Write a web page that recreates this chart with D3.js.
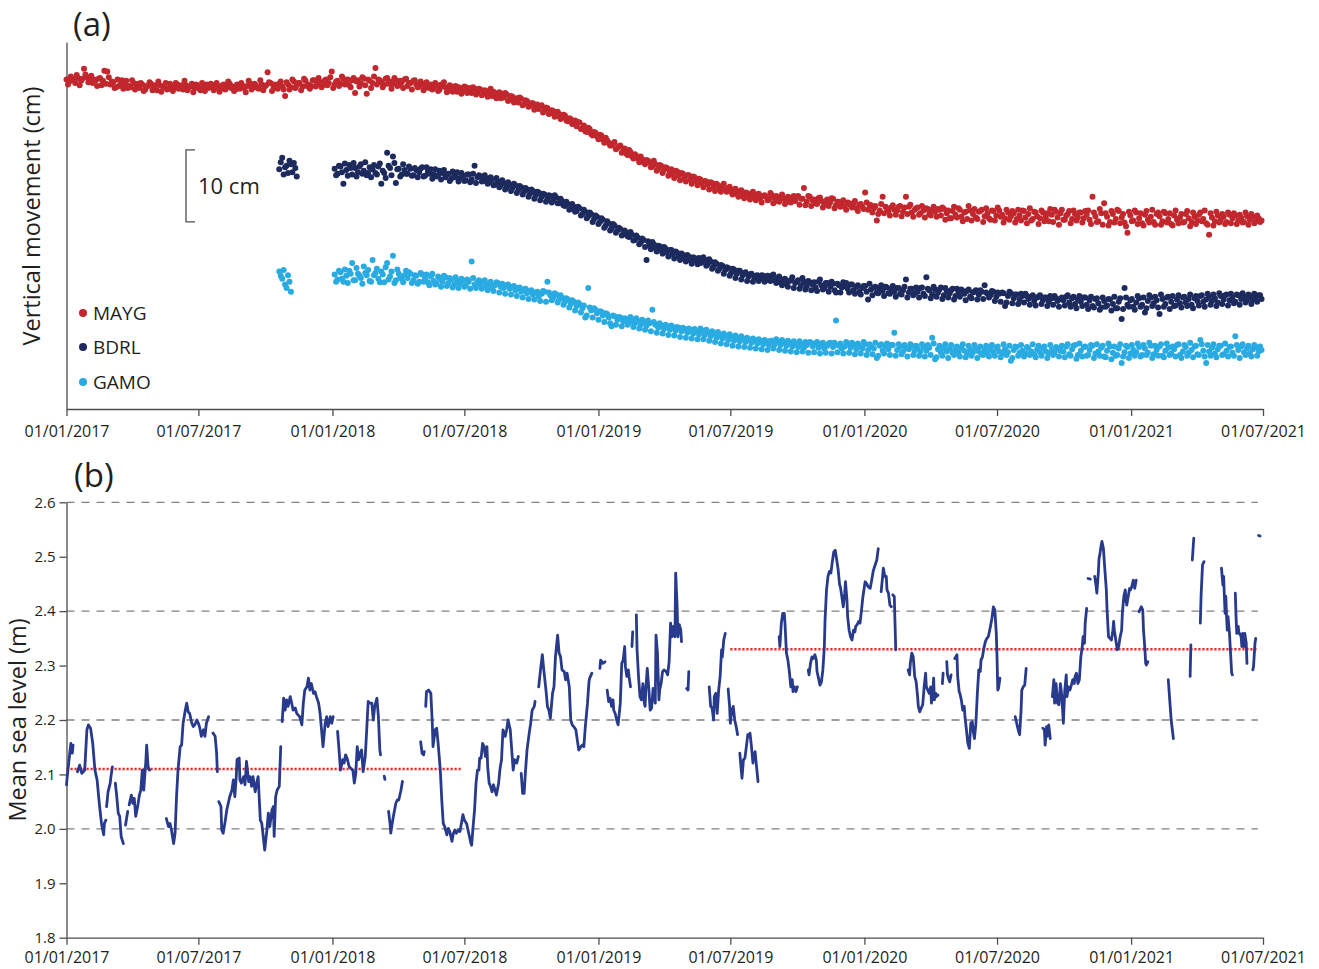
<!DOCTYPE html>
<html>
<head>
<meta charset="utf-8">
<script src="https://cdn.jsdelivr.net/npm/d3@7"></script>
<style>
  body { margin: 0; background: #fff; }
</style>
</head>
<body>
<svg id="fig" width="1319" height="969"></svg>
<script>
// ---- data ----
const tickDates = ["2017-01-01", "2017-07-01", "2018-01-01", "2018-07-01", "2019-01-01",
  "2019-07-01", "2020-01-01", "2020-07-01", "2021-01-01", "2021-07-01"];

const stations = ["MAYG", "BDRL", "GAMO"];
const stationColors = ["#c1272d", "#1d2a5d", "#29abe2"];
const stationOffset = [0, -12.4, -27.2];   // cm, vertical stacking of the series

// GNSS vertical movement (cm), one sample every 4 days in each array, day 0 = 01/01/2017
const sampleStep = 4;
const maygStart = 0;
const maygCm = [
  0.3,0.0,0.4,-0.2,0.5,0.1,1.8,0.6,0.2,-0.2,0.2,0.4,-0.5,1.5,1.4,-0.4,-0.1,-0.8,-0.6,0.2,-0.3,-0.9,-0.8,-0.2,-0.5,
  -0.9,-0.4,-1.1,-0.6,-0.3,-0.8,-1.2,-0.5,-0.7,-0.2,-1.0,-0.6,-0.9,-0.4,-0.7,-1.1,-0.5,-0.8,-0.3,-0.9,-0.6,-1.2,-0.7,-0.4,-0.8,
  -0.5,-0.9,-0.6,-1.0,-0.4,-0.8,-0.3,-0.7,-1.1,-0.5,-0.2,-0.9,-0.6,-0.3,-0.8,-0.5,-1.0,-0.4,-0.7,1.3,-0.2,-0.6,-0.9,-0.3,-0.7,
  -2.0,-0.4,-0.8,0.0,-0.5,-0.2,-0.7,0.1,-0.4,-0.6,0.2,-0.3,-0.1,-0.5,0.3,-0.2,1.4,-0.4,0.1,-0.3,0.4,-0.1,-0.5,0.2,-1.6,
  0.2,-0.3,0.4,-1.7,0.1,-0.2,1.9,0.3,-0.1,-0.4,0.5,0.0,-0.3,0.2,-0.5,-0.1,0.3,-0.6,-0.2,0.1,-0.4,-0.7,-0.3,-0.9,-0.5,
  -0.4,-0.9,-0.5,-1.1,-0.6,-0.8,-1.2,-0.7,-1.0,-1.4,-0.9,-1.3,-0.8,-1.2,-1.6,-1.0,-1.4,-1.1,-1.7,-1.3,-1.5,-2.0,-1.6,-1.9,-2.3,
  -2.2,-1.8,-2.5,-2.1,-2.6,-2.9,-2.4,-3.1,-2.7,-3.4,-3.0,-3.6,-3.8,-3.3,-4.0,-3.7,-4.4,-4.1,-4.8,-4.5,-5.0,-4.7,-5.5,-5.2,-5.8,
  -6.2,-5.7,-6.5,-6.9,-6.4,-7.3,-7.0,-7.6,-7.4,-8.1,-7.8,-8.5,-8.9,-8.4,-9.2,-8.9,-9.6,-10.0,-9.5,-10.4,-10.1,-10.7,-10.4,-11.2,-10.9,
  -11.2,-11.8,-11.5,-12.1,-11.7,-12.3,-12.0,-12.6,-12.9,-12.4,-13.0,-12.7,-13.3,-13.0,-13.6,-13.2,-13.8,-13.5,-14.1,-13.8,-14.3,-14.0,-14.6,-14.2,-14.8,
  -14.5,-15.0,-14.8,-15.3,-15.0,-15.6,-15.2,-15.8,-15.4,-15.9,-15.6,-16.1,-15.7,-16.3,-15.9,-16.0,-16.4,-15.8,-16.2,-16.6,-16.0,-16.3,-16.7,-16.1,-16.4,
  -16.6,-15.9,-16.3,-14.8,-16.7,-16.0,-16.5,-16.9,-16.2,-16.6,-17.1,-16.4,-16.8,-16.3,-17.2,-16.7,-17.0,-17.4,-16.8,-17.2,-16.9,-17.6,-17.1,-17.4,-15.4,
  -17.8,-17.2,-17.6,-19.3,-17.9,-16.0,-17.4,-18.0,-17.5,-17.8,-17.9,-17.3,-18.1,-16.0,-17.4,-18.2,-17.8,-17.5,-18.3,-17.9,-17.6,-18.4,-17.8,-18.1,-17.7,
  -18.6,-17.7,-18.3,-19.0,-18.0,-18.5,-17.6,-18.8,-18.2,-19.1,-17.9,-18.4,-18.9,-18.1,-17.8,-18.7,-18.3,-19.2,-18.0,-18.6,-17.9,-18.5,-19.0,-18.2,-18.7,
  -18.3,-19.1,-18.6,-17.9,-18.9,-18.4,-19.3,-18.1,-18.7,-19.0,-18.2,-18.8,-19.4,-18.5,-17.8,-18.9,-18.3,-19.2,-18.6,-18.0,-19.1,-18.4,-18.9,-18.2,-19.0,
  -18.5,-19.2,-16.0,-18.7,-19.4,-18.3,-16.9,-18.8,-19.5,-18.4,-19.1,-18.0,-18.9,-19.6,-21.0,-18.6,-19.3,-18.2,-19.0,-19.7,-18.5,-19.2,-18.8,-19.5,-18.4,
  -18.7,-19.4,-18.3,-19.1,-19.8,-18.6,-19.2,-18.9,-19.6,-18.4,-19.0,-19.5,-18.8,-19.3,-18.2,-19.1,-19.7,-21.3,-18.9,-19.4,-18.6,-19.2,-18.8,-19.5,-18.5,
  -19.0,-18.6,-19.3,-18.9,-19.5,-18.7,-19.2,-18.8,-19.4,-19.0,-19.3
];
const maygMidStart = 2;
const maygCmMid = [
  -0.4,0.7,0.2,0.9,-0.5,0.4,1.0,-0.1,0.8,0.3,-0.6,0.5,0.1,-0.3,0.6,0.0,-0.9,0.3,-0.4,-1.0,0.1,-0.6,0.2,-1.1,-0.3,
  -0.2,-1.3,-0.6,-0.1,-1.2,-0.5,0.0,-1.4,-0.8,-1.1,-0.3,-1.3,-0.2,-1.0,-0.5,0.1,-1.2,-0.7,-1.5,-0.4,-1.0,-0.2,-1.3,-0.9,-0.3,
  -1.2,-0.2,-1.4,-0.5,-1.1,0.0,-0.9,-1.3,-0.4,-1.0,-0.6,-1.5,0.1,-1.1,-0.3,-0.9,0.2,-1.2,-0.5,-0.1,-1.3,-0.4,-1.0,0.0,-1.1,
  -0.1,-1.1,0.3,-0.9,-0.2,-1.2,0.4,-0.6,-1.0,0.2,-0.7,0.5,-0.8,0.1,-0.5,0.6,-0.9,0.0,-0.6,0.7,-0.4,0.3,-0.8,0.5,0.0,
  -0.7,0.6,-0.5,0.3,-0.9,0.7,-0.4,0.2,-0.8,0.4,-0.3,-1.0,0.5,-0.6,0.1,-0.9,0.4,-0.2,-1.1,0.2,-0.8,0.0,-1.2,-0.1,-0.9,
  -1.1,-0.2,-1.3,-0.4,-0.1,-1.5,-0.5,-1.4,-0.6,-0.8,-1.7,-0.7,-1.6,-0.9,-0.8,-1.8,-1.0,-1.9,-1.2,-2.1,-1.0,-1.4,-2.3,-1.5,-1.7,
  -1.6,-2.7,-2.0,-2.9,-2.3,-2.2,-3.3,-2.6,-3.5,-3.0,-3.9,-3.2,-3.4,-4.3,-3.6,-4.5,-4.0,-4.9,-4.2,-5.2,-4.6,-5.4,-5.1,-5.9,-5.4,
  -5.6,-6.6,-6.1,-7.0,-6.6,-7.5,-7.1,-8.0,-7.5,-8.5,-8.2,-8.9,-8.6,-9.4,-9.0,-9.9,-9.3,-10.2,-9.8,-10.7,-10.3,-11.2,-10.8,-11.5,-11.0,
  -11.9,-11.0,-12.4,-11.6,-12.7,-11.9,-13.1,-12.2,-13.4,-12.5,-13.7,-12.8,-13.9,-13.0,-14.2,-13.3,-14.4,-13.6,-14.7,-13.9,-15.0,-14.1,-15.2,-14.4,-15.3,
  -14.2,-15.3,-14.6,-15.7,-14.9,-16.0,-15.1,-16.2,-15.5,-16.4,-15.3,-16.5,-15.6,-16.8,-15.8,-16.5,-15.5,-16.9,-15.9,-16.7,-15.7,-17.0,-16.0,-16.8,-15.9,
  -16.0,-17.1,-16.3,-17.2,-15.9,-17.3,-16.4,-17.0,-16.1,-17.5,-16.6,-17.3,-16.2,-17.6,-16.7,-17.4,-16.5,-17.8,-16.9,-17.5,-16.6,-18.0,-17.0,-17.7,-16.8,
  -17.1,-18.2,-17.3,-18.4,-17.0,-18.3,-17.6,-18.6,-17.2,-18.5,-17.4,-18.7,-17.5,-18.4,-17.1,-18.8,-17.6,-18.5,-17.3,-18.9,-17.7,-18.6,-17.4,-18.8,-17.8,
  -17.5,-19.2,-17.9,-19.0,-17.4,-18.9,-17.8,-19.4,-18.1,-17.3,-19.3,-17.7,-19.1,-18.0,-19.5,-17.6,-19.0,-17.9,-19.3,-17.5,-18.8,-19.6,-17.8,-19.2,-18.0,
  -19.6,-17.8,-19.3,-18.0,-19.7,-17.6,-19.1,-18.2,-19.8,-17.9,-19.4,-18.3,-17.7,-19.5,-18.1,-19.9,-17.8,-19.2,-18.4,-19.7,-17.9,-19.3,-18.2,-19.6,-18.0,
  -17.9,-19.8,-18.2,-19.5,-17.7,-19.9,-18.3,-20.0,-18.0,-19.6,-17.8,-19.7,-18.4,-20.1,-18.1,-19.4,-17.9,-19.8,-18.3,-20.0,-18.0,-19.6,-17.8,-19.9,-18.2,
  -19.9,-18.1,-19.6,-18.3,-20.0,-17.9,-19.7,-18.4,-19.5,-18.0,-20.1,-18.2,-19.8,-18.5,-19.4,-17.9,-19.9,-18.3,-20.0,-18.1,-19.6,-18.4,-19.8,-18.2,-19.7,
  -18.3,-19.8,-18.5,-19.6,-18.2,-19.9,-18.4,-19.7,-18.6,-19.5
];

const bdrlEarlyStart = 292;
const bdrlEarlyCm = [0.2, 1.8, 0.5, -0.3, 0.9, 1.1, -0.8];
const bdrlEarlyMidStart = 294;
const bdrlEarlyCmMid = [1.2, -0.5, 0.7, 1.4, -0.2, 0.4];
const bdrlStart = 368;
const bdrlCm = [
  0.3,-0.4,0.6,-1.8,0.1,0.8,-0.5,0.4,-0.2,0.9,0.0,-0.6,0.5,0.2,-0.3,0.6,-1.8,-0.3,2.5,0.4,2.0,-1.7,0.3,-0.5,0.1,
  -0.4,0.3,-0.6,0.1,-0.2,0.5,-0.7,-0.1,0.2,-0.5,-0.8,0.0,-0.3,-0.9,-0.4,-1.1,-0.6,-0.2,-1.0,-0.7,-1.3,-0.5,-1.2,0.7,-0.9,
  -0.8,-1.4,-1.1,-1.6,-1.2,-1.9,-1.5,-2.0,-1.7,-2.3,-1.9,-2.4,-2.0,-2.7,-2.3,-2.9,-2.6,-3.2,-2.8,-3.4,-3.0,-3.6,-3.3,-3.9,-3.5,
  -4.1,-3.7,-4.5,-4.2,-4.9,-4.6,-5.3,-5.0,-5.6,-5.2,-6.0,-5.7,-6.3,-6.0,-6.7,-6.4,-7.1,-6.8,-7.6,-7.3,-8.0,-7.6,-8.3,-8.1,-8.8,
  -8.6,-9.2,-8.9,-9.6,-9.3,-10.0,-9.6,-12.4,-10.3,-9.9,-10.7,-10.4,-11.0,-10.6,-11.3,-11.0,-11.6,-11.2,-11.9,-11.5,-12.1,-11.7,-12.4,-12.0,-12.5,
  -12.1,-12.7,-12.4,-13.0,-12.6,-13.3,-12.9,-13.6,-13.2,-13.8,-13.5,-14.2,-13.7,-14.3,-13.9,-14.5,-14.1,-14.7,-14.3,-14.9,-14.5,-15.0,-14.6,-15.2,-14.8,
  -14.6,-15.2,-14.9,-15.5,-15.1,-15.7,-15.3,-14.8,-15.6,-15.2,-15.9,-15.4,-16.0,-15.5,-15.8,-16.2,-15.4,-15.9,-16.3,-15.6,-16.1,-15.7,-16.9,-15.9,-16.2,
  -16.0,-16.4,-15.8,-16.6,-16.1,-16.8,-16.3,-16.0,-17.9,-16.5,-16.2,-16.9,-16.4,-16.7,-16.1,-17.0,-16.5,-16.8,-16.3,-17.1,-16.6,-15.1,-16.9,-16.4,-17.0,
  -16.8,-16.3,-17.1,-14.8,-16.6,-17.2,-16.5,-16.9,-16.2,-17.3,-16.7,-17.0,-16.4,-17.4,-16.8,-16.5,-17.1,-16.7,-17.5,-16.9,-16.6,-17.2,-16.8,-15.9,-17.1,
  -17.3,-16.8,-17.5,-17.1,-16.9,-18.8,-17.4,-17.0,-17.7,-17.2,-17.9,-17.4,-17.1,-17.8,-17.5,-18.1,-17.6,-17.3,-18.0,-17.6,-18.2,-17.7,-17.4,-18.1,-17.8,
  -18.0,-17.5,-18.3,-17.7,-18.5,-17.9,-18.2,-17.6,-18.6,-18.0,-18.8,-17.8,-18.4,-19.0,-18.1,-18.7,-17.9,-18.5,-19.1,-18.2,-20.6,-16.3,-18.6,-18.0,-18.9,
  -18.3,-17.7,-18.6,-19.7,-18.1,-17.6,-18.4,-18.0,-19.9,-17.8,-18.5,-17.5,-18.2,-18.8,-17.9,-18.4,-17.6,-18.3,-17.8,-18.6,-17.7,-18.1,-17.4,-18.2,-17.9,
  -17.5,-18.1,-17.7,-18.3,-17.4,-17.9,-17.2,-18.0,-17.6,-18.2,-17.3,-17.8,-17.5,-18.0,-17.4,-17.9,-17.6,-17.3,-17.8
];
const bdrlMidStart = 370;
const bdrlCmMid = [
  -0.6,0.7,-0.2,1.0,-0.7,0.4,1.1,-0.8,0.6,-0.4,1.2,-0.3,-0.9,0.8,-0.5,1.0,0.0,-1.0,0.7,-0.6,1.1,0.2,-0.8,0.9,-0.4,
  0.6,-0.7,0.4,-0.9,0.3,-0.8,0.5,-0.4,-1.1,0.2,-0.6,-1.2,0.1,-0.5,-1.4,-0.1,-0.9,-1.5,-0.3,-1.4,-0.5,-1.6,-0.4,-1.7,-0.6,
  -1.5,-0.6,-1.8,-0.9,-2.0,-1.0,-2.3,-1.3,-2.6,-1.6,-2.8,-1.8,-3.1,-2.1,-3.3,-2.4,-3.6,-2.6,-3.9,-2.9,-4.1,-3.2,-4.3,-3.4,-4.4,
  -3.4,-4.5,-3.9,-4.8,-4.3,-5.4,-4.6,-5.7,-5.0,-6.2,-5.4,-6.6,-5.8,-7.1,-6.2,-7.4,-6.6,-7.9,-7.0,-8.3,-7.4,-8.6,-7.9,-9.0,-8.3,
  -9.1,-8.5,-9.7,-9.0,-10.2,-9.4,-10.6,-9.8,-10.9,-10.2,-11.2,-10.5,-11.5,-10.8,-11.9,-11.0,-12.2,-11.4,-12.4,-11.7,-12.6,-11.9,-12.9,-12.1,-13.0,
  -12.8,-12.0,-13.2,-12.3,-13.6,-12.7,-13.9,-13.1,-14.3,-13.4,-14.6,-13.6,-14.9,-13.9,-15.1,-14.2,-15.3,-14.4,-15.4,-14.6,-15.3,-14.5,-15.4,-14.6,-15.3,
  -14.4,-15.6,-14.7,-15.9,-15.0,-16.1,-15.2,-16.3,-15.4,-16.4,-14.9,-16.5,-15.3,-16.6,-15.5,-16.7,-15.1,-16.5,-15.6,-16.8,-15.4,-16.6,-15.7,-16.9,-15.5,
  -15.6,-16.9,-15.8,-17.1,-15.9,-17.2,-16.0,-16.8,-15.7,-17.3,-16.1,-17.0,-15.9,-17.4,-16.2,-17.1,-16.0,-17.5,-16.3,-17.2,-16.1,-17.6,-16.4,-17.3,-16.2,
  -17.6,-16.2,-17.4,-16.4,-17.7,-16.1,-17.5,-16.5,-17.8,-16.3,-17.6,-16.6,-17.9,-16.4,-17.5,-16.7,-18.0,-16.5,-17.7,-16.8,-17.9,-16.6,-17.8,-16.9,-17.6,
  -16.7,-18.1,-16.9,-18.2,-17.0,-18.3,-16.8,-18.4,-17.2,-18.5,-17.1,-18.3,-17.4,-18.6,-17.3,-18.7,-17.5,-18.5,-17.6,-18.8,-17.4,-18.6,-17.7,-18.9,-17.6,
  -18.7,-17.3,-18.9,-17.5,-19.1,-17.4,-18.8,-17.6,-19.2,-17.5,-19.0,-17.7,-19.3,-17.6,-18.9,-17.8,-19.4,-17.5,-19.1,-17.7,-19.2,-17.6,-18.9,-17.8,-19.3,
  -17.4,-18.9,-17.6,-19.1,-17.3,-18.8,-17.5,-19.0,-17.2,-18.9,-17.6,-19.2,-17.4,-18.7,-17.3,-19.0,-17.5,-18.8,-17.2,-19.1,-17.4,-18.7,-17.3,-18.9,-17.1,
  -18.6,-17.2,-18.8,-17.0,-18.5,-17.3,-18.7,-17.1,-18.4,-17.2,-18.6,-17.0,-18.3,-17.2,-18.5,-17.1,-18.2,-17.3
];

const gamoEarlyStart = 292;
const gamoEarlyCm = [0.8, -0.2, -1.0, 0.3, -2.0];
const gamoEarlyMidStart = 294;
const gamoEarlyCmMid = [0.2, 1.0, -1.5, -0.6];
const gamoStart = 368;
const gamoCm = [
  0.4,-0.3,0.7,-0.6,0.2,0.9,2.0,-0.4,0.5,-0.1,1.5,0.3,-0.5,2.4,0.6,-0.2,0.8,-0.7,2.0,0.1,3.0,-0.4,0.5,-0.2,0.3,
  -0.1,0.5,-0.4,0.2,-0.6,0.4,-0.2,-0.7,0.1,-0.5,-0.9,-0.2,-0.6,0.0,-0.8,-0.3,-1.0,-0.5,-0.9,-0.4,-1.1,-0.6,2.2,-1.0,-0.7,
  -1.0,-0.6,-1.2,-0.9,-1.4,-1.1,-0.8,-1.3,-1.5,-1.1,-1.6,-1.3,-1.8,-1.5,-2.0,-1.7,-2.2,-1.9,-2.4,-2.1,-2.6,-2.3,-2.0,-0.6,-2.5,
  -2.8,-2.4,-3.1,-2.8,-3.4,-3.1,-3.7,-3.4,-4.0,-3.7,-4.3,-5.6,-1.5,-4.6,-4.3,-5.0,-4.7,-5.3,-5.0,-5.6,-6.8,-5.4,-5.9,-5.6,-6.1,
  -5.8,-6.3,-5.9,-6.4,-6.1,-6.6,-6.2,-6.7,-6.4,-4.5,-6.6,-7.0,-6.7,-7.2,-6.8,-7.3,-6.9,-7.4,-7.0,-7.5,-7.2,-7.7,-7.3,-7.8,-7.5,
  -7.9,-7.4,-8.0,-7.6,-8.2,-7.8,-8.4,-8.0,-8.5,-8.1,-8.7,-8.2,-8.8,-8.4,-8.9,-8.5,-9.0,-8.6,-9.1,-8.7,-9.2,-8.8,-9.3,-8.9,-9.4,
  -8.8,-9.3,-8.9,-9.4,-9.0,-9.5,-9.1,-9.6,-9.2,-9.7,-9.3,-9.8,-9.4,-9.0,-9.6,-9.2,-9.8,-9.4,-9.9,-9.5,-9.1,-9.7,-6.0,-9.5,-9.9,
  -9.6,-9.2,-9.8,-9.4,-10.0,-9.5,-9.9,-9.3,-10.1,-9.6,-9.9,-11.2,-9.5,-10.2,-9.7,-10.0,-9.4,-7.7,-10.1,-9.6,-10.3,-9.8,-10.0,-9.5,-10.2,
  -9.9,-10.3,-9.7,-10.2,-9.8,-8.4,-11.4,-10.0,-10.4,-9.8,-10.3,-9.9,-10.5,-10.0,-10.4,-9.8,-10.2,-10.6,-10.0,-10.4,-9.9,-10.3,-10.7,-10.1,-10.4,
  -10.0,-10.4,-9.8,-10.3,-10.6,-10.0,-10.4,-11.6,-10.1,-9.7,-10.5,-10.2,-10.6,-9.9,-10.3,-10.7,-10.0,-10.4,-9.8,-10.3,-10.6,-10.1,-10.5,-9.9,-10.2,
  -10.3,-9.6,-10.7,-10.0,-9.4,-10.8,-10.2,-9.7,-10.9,-10.1,-9.5,-10.6,-10.3,-9.8,-11.0,-10.2,-9.6,-10.5,-10.9,-9.9,-11.9,-10.4,-9.7,-10.6,-10.1,
  -10.4,-9.7,-10.8,-9.9,-10.5,-9.5,-10.7,-10.1,-9.6,-10.9,-10.2,-9.8,-10.6,-10.0,-9.4,-10.8,-10.3,-9.7,-10.5,-10.1,-9.6,-10.7,-8.7,-10.2,-11.9,
  -10.3,-9.8,-10.6,-10.0,-9.5,-10.7,-10.2,-9.7,-10.5,-8.2,-10.1,-9.6,-10.4,-9.9,-10.6,-10.0,-9.7,-10.3,-10.1
];
const gamoMidStart = 370;
const gamoCmMid = [
  -0.6,0.9,-0.2,1.1,-0.8,0.5,-0.4,1.3,0.2,-0.9,0.6,1.0,-0.6,0.3,1.2,-0.7,0.4,1.4,-0.3,0.8,-0.8,1.1,0.0,-0.7,0.9,
  0.7,-0.8,0.3,-0.9,0.6,-0.6,0.4,-1.1,0.5,-1.0,0.1,-1.3,0.2,-1.2,-0.1,-1.4,0.0,-1.5,-0.2,-1.3,-0.3,-1.6,-0.1,-1.5,-0.4,
  -1.6,-0.4,-1.8,-0.6,-1.9,-0.7,-2.1,-0.9,-2.3,-1.0,-2.4,-1.2,-2.6,-1.4,-2.8,-1.6,-3.0,-1.8,-3.1,-2.0,-3.3,-1.9,-3.4,-2.1,-3.2,
  -2.2,-3.5,-2.5,-3.8,-2.9,-4.2,-3.2,-4.6,-3.5,-4.9,-3.9,-5.3,-4.2,-5.6,-4.5,-5.9,-4.8,-6.2,-5.1,-6.4,-5.3,-6.6,-5.5,-6.8,-5.7,
  -6.6,-5.5,-6.9,-5.7,-7.1,-5.9,-7.3,-6.0,-7.5,-6.2,-7.7,-6.4,-7.8,-6.6,-8.0,-6.7,-8.1,-6.9,-8.3,-7.0,-8.4,-7.1,-8.5,-7.2,-8.6,
  -7.1,-8.6,-7.3,-8.8,-7.5,-9.0,-7.6,-9.2,-7.8,-9.3,-7.9,-9.5,-8.1,-9.6,-8.2,-9.7,-8.4,-9.8,-8.5,-9.9,-8.6,-10.0,-8.7,-10.1,-8.8,
  -9.9,-8.6,-10.1,-8.7,-10.2,-8.8,-10.3,-8.9,-10.4,-8.9,-10.3,-9.0,-10.5,-9.1,-10.4,-9.0,-10.6,-9.1,-10.5,-9.2,-10.6,-9.1,-10.4,-9.2,-10.6,
  -9.0,-10.5,-9.1,-10.7,-9.2,-10.6,-9.0,-10.8,-9.3,-10.7,-9.1,-10.9,-9.3,-10.6,-9.2,-10.8,-9.4,-10.9,-9.3,-10.7,-9.4,-11.0,-9.3,-10.8,-9.5,
  -10.9,-9.3,-11.0,-9.4,-10.8,-9.2,-11.1,-9.5,-10.9,-9.3,-11.2,-9.4,-10.8,-9.6,-11.0,-9.3,-11.1,-9.5,-10.9,-9.4,-11.2,-9.6,-10.8,-9.5,-11.0,
  -9.4,-10.9,-9.6,-11.1,-9.3,-10.8,-9.5,-11.2,-9.6,-10.9,-9.4,-11.0,-9.7,-10.8,-9.3,-11.1,-9.5,-10.9,-9.6,-11.2,-9.4,-10.8,-9.7,-11.0,-9.5,
  -11.1,-9.3,-10.9,-9.5,-11.3,-9.2,-11.0,-9.6,-10.8,-9.4,-11.2,-9.3,-10.9,-9.5,-11.1,-9.2,-11.4,-9.6,-10.8,-9.3,-11.0,-9.5,-11.2,-9.4,-10.9,
  -9.2,-11.0,-9.4,-10.8,-9.1,-11.2,-9.5,-10.9,-9.3,-11.1,-9.2,-10.8,-9.6,-11.0,-9.3,-11.2,-9.4,-10.9,-9.1,-11.1,-9.5,-10.8,-9.3,-11.0,-9.4,
  -10.9,-9.3,-11.1,-9.5,-10.8,-9.2,-11.0,-9.6,-10.9,-9.4,-11.2,-9.3,-10.8,-9.5,-11.0,-9.4,-10.9,-9.6
];

// mean sea level (m): [day since 01/01/2017, value], null = gap in the record
const seaLevel = [
  [0,2.081],[1,2.096],[4,2.133],[6,2.157],[8,2.139],[9,2.154], null,
  [15,2.105],[18,2.117],[21,2.102],[23,2.105],[25,2.108],[28,2.182],[30,2.191],[33,2.185],[36,2.157],[39,2.108],[42,2.090],[45,2.047],[48,2.010],[51,1.989],[52,2.010],[54,2.016], null,
  [55,2.041],[57,2.068],[60,2.084],[61,2.096],[63,2.114], null,
  [67,2.084],[69,2.059],[71,2.029],[73,2.023],[75,1.986],[78,1.973], null,
  [81,2.007],[84,2.032], null,
  [86,2.044],[89,2.062],[91,2.047],[93,2.056],[95,2.023],[98,2.044],[100,2.062],[102,2.071],[104,2.108],[106,2.071],[109,2.127],[110,2.154],[112,2.114],[114,2.108], null,
  [137,2.019],[140,2.004],[142,2.010],[144,1.998],[147,1.973],[149,1.992],[151,2.059],[153,2.108],[156,2.151],[158,2.154],[160,2.194],[163,2.218],[165,2.231],[167,2.215],[169,2.212],[172,2.194],[174,2.188],[176,2.191],[179,2.200],[181,2.194],[183,2.185],[185,2.170],[188,2.182],[190,2.170],[192,2.194],[195,2.206], null,
  [201,2.176],[204,2.170],[206,2.139],[207,2.105], null,
  [209,2.050],[212,2.041],[213,1.998],[215,1.992],[218,2.016],[220,2.035],[222,2.047],[224,2.059],[227,2.071],[229,2.090],[231,2.059],[233,2.096],[234,2.127],[237,2.130],[238,2.090],[240,2.084],[243,2.096],[245,2.081],[247,2.124],[250,2.087],[252,2.096],[254,2.078],[256,2.096],[259,2.068],[261,2.084],[263,2.096],[266,2.016],[268,2.010],[270,1.986],[272,1.961],[275,1.998],[277,2.029],[279,2.004],[282,2.035],[284,2.041],[285,1.986],[287,2.059],[289,2.071],[292,2.078],[294,2.151], null,
  [296,2.197],[298,2.240],[300,2.218],[302,2.237],[304,2.225],[307,2.243],[309,2.231],[311,2.218],[314,2.222],[316,2.212],[318,2.209],[320,2.206],[323,2.191],[325,2.231],[327,2.255],[330,2.261],[332,2.277],[334,2.255],[336,2.267],[339,2.249],[341,2.252],[343,2.243],[346,2.231],[348,2.212],[350,2.182],[352,2.151],[355,2.194],[357,2.206],[359,2.188],[362,2.206],[364,2.194],[366,2.206], null,
  [372,2.179],[374,2.145],[376,2.108],[379,2.127],[381,2.121],[383,2.136],[385,2.130],[388,2.114],[390,2.111],[393,2.108],[395,2.084],[397,2.102],[399,2.151],[401,2.127],[403,2.139],[405,2.145],[407,2.105],[410,2.133],[412,2.182],[414,2.234],[416,2.231],[419,2.231],[421,2.200],[423,2.225],[426,2.240],[428,2.206],[430,2.145],[431,2.136], null,
  [436,2.097],[437,2.091], null,
  [442,2.032],[444,2.010],[445,1.992],[447,2.010],[449,2.026],[452,2.047],[454,2.053],[456,2.053],[459,2.071],[461,2.087], null,
  [486,2.160],[488,2.139],[490,2.136],[491,2.142], null,
  [493,2.225],[494,2.252],[497,2.255],[500,2.249],[502,2.194],[503,2.151],[506,2.182],[508,2.185],[510,2.157],[513,2.108],[515,2.053],[517,2.010],[519,2.004],[522,1.989],[524,2.001],[526,1.995],[529,1.977],[531,1.992],[533,1.998],[535,1.992],[538,1.998],[540,1.995],[544,2.026],[546,2.016],[549,2.010],[552,1.992],[555,1.973],[556,1.970],[558,2.004],[560,2.035],[562,2.084],[564,2.108],[566,2.108],[567,2.130],[569,2.130],[571,2.157],[573,2.151],[575,2.133],[577,2.151],[578,2.114],[580,2.084],[582,2.078],[584,2.068],[586,2.081],[588,2.071],[590,2.062],[593,2.084],[595,2.111],[597,2.127],[599,2.182],[602,2.170],[604,2.182],[606,2.200],[609,2.182],[611,2.145],[613,2.108],[615,2.127],[618,2.121],[620,2.133], null,
  [624,2.102],[626,2.065],[628,2.065],[630,2.108],[632,2.145],[635,2.176],[637,2.194],[639,2.218],[642,2.225],[643,2.234], null,
  [648,2.261],[651,2.298],[653,2.320],[655,2.292],[658,2.255],[660,2.225],[662,2.218],[664,2.203],[667,2.249],[669,2.261],[671,2.316],[674,2.356],[676,2.323],[678,2.316],[680,2.292],[683,2.289],[685,2.274],[687,2.286],[690,2.261],[692,2.200],[694,2.191],[696,2.188],[699,2.182],[701,2.163],[703,2.145],[706,2.151],[708,2.154],[710,2.151],[712,2.188],[715,2.231],[717,2.270],[718,2.277],[721,2.286], null,
  [732,2.295],[733,2.310],[736,2.304],[739,2.307], null,
  [742,2.255],[744,2.234],[746,2.240],[748,2.225],[750,2.237],[751,2.218],[753,2.212],[755,2.200],[757,2.191],[760,2.231],[762,2.304],[764,2.310],[766,2.335],[767,2.298],[769,2.280],[771,2.292],[772,2.280],[774,2.261], null,
  [776,2.335],[777,2.362], null,
  [782,2.393],[783,2.329],[785,2.280],[787,2.243],[789,2.237],[791,2.267],[793,2.231],[794,2.225],[795,2.255],[797,2.295],[799,2.261],[801,2.218],[803,2.222],[805,2.258],[808,2.231],[809,2.356],[811,2.323],[813,2.237],[814,2.255],[816,2.267],[818,2.289],[820,2.292],[823,2.289],[825,2.283],[827,2.307],[829,2.378],[831,2.353],[833,2.372],[835,2.353],[836,2.470],[838,2.408],[839,2.353],[841,2.375],[843,2.365],[844,2.344], null,
  [851,2.258],[853,2.255],[854,2.289], null,
  [882,2.261],[884,2.225],[886,2.222],[888,2.200],[889,2.243],[891,2.249],[893,2.212],[895,2.255],[897,2.280],[899,2.329],[900,2.316],[902,2.347],[904,2.359], null,
  [908,2.257],[910,2.225],[911,2.194],[913,2.218],[915,2.225],[917,2.200],[919,2.188],[921,2.173], null,
  [924,2.139],[926,2.108],[927,2.093],[929,2.127],[931,2.130],[933,2.151],[935,2.173],[937,2.170],[938,2.176],[940,2.151],[942,2.121],[943,2.133],[945,2.142],[947,2.114],[949,2.087], null,
  [978,2.353],[979,2.335],[981,2.378],[983,2.396],[985,2.396],[986,2.378],[988,2.323],[990,2.310],[992,2.289],[994,2.261],[996,2.274],[997,2.252],[999,2.261],[1001,2.252],[1003,2.261], null,
  [1018,2.292],[1019,2.283],[1021,2.304],[1023,2.316],[1025,2.313],[1027,2.320],[1029,2.310],[1030,2.289],[1032,2.277],[1034,2.264],[1036,2.270],[1038,2.292],[1040,2.335],[1041,2.384],[1043,2.439],[1045,2.464],[1047,2.473],[1049,2.470],[1051,2.491],[1053,2.509],[1055,2.512],[1057,2.494],[1059,2.476],[1061,2.448],[1062,2.445],[1064,2.427],[1066,2.408],[1068,2.433],[1069,2.454],[1071,2.421],[1072,2.390],[1074,2.365],[1076,2.353],[1078,2.347],[1080,2.365],[1082,2.362],[1083,2.372],[1085,2.375],[1087,2.381],[1089,2.378],[1091,2.402],[1093,2.427],[1096,2.454],[1098,2.451],[1100,2.445],[1103,2.442],[1105,2.457],[1107,2.473],[1109,2.482],[1112,2.494],[1114,2.515], null,
  [1118,2.436],[1120,2.464],[1121,2.479],[1123,2.464],[1125,2.464],[1126,2.439],[1128,2.433],[1130,2.411],[1132,2.408], null,
  [1134,2.430],[1136,2.427],[1137,2.378],[1138,2.329], null,
  [1155,2.292],[1157,2.283],[1158,2.304],[1160,2.323],[1162,2.316],[1164,2.280],[1166,2.270],[1168,2.243],[1169,2.225],[1171,2.215],[1173,2.222],[1175,2.228],[1177,2.261],[1179,2.286],[1180,2.261],[1182,2.255],[1184,2.249],[1186,2.261],[1187,2.231],[1189,2.255],[1190,2.277],[1191,2.237],[1193,2.249],[1194,2.243],[1196,2.246], null,
  [1202,2.267],[1203,2.286], null,
  [1208,2.307],[1209,2.283],[1211,2.274],[1212,2.270],[1214,2.283], null,
  [1219,2.313],[1222,2.320],[1223,2.280],[1225,2.252],[1226,2.249],[1228,2.237],[1230,2.218],[1232,2.225],[1233,2.206],[1235,2.182],[1237,2.157],[1239,2.148],[1241,2.194],[1243,2.197],[1244,2.182],[1246,2.166],[1248,2.194],[1250,2.249],[1252,2.292],[1254,2.289],[1255,2.310],[1257,2.316],[1259,2.332],[1261,2.344],[1263,2.350],[1265,2.353],[1266,2.359],[1268,2.372],[1270,2.387],[1272,2.408],[1274,2.402],[1276,2.359],[1277,2.316],[1278,2.255],[1279,2.258],[1281,2.277], null,
  [1302,2.206],[1304,2.194],[1306,2.182],[1308,2.173],[1310,2.218],[1311,2.255],[1313,2.261],[1315,2.264],[1317,2.295], null,
  [1340,2.185],[1342,2.182],[1343,2.154],[1345,2.188],[1346,2.170],[1348,2.191],[1350,2.166], null,
  [1353,2.243],[1355,2.274],[1356,2.231],[1358,2.267],[1360,2.231],[1362,2.228],[1364,2.267],[1366,2.243],[1368,2.194],[1370,2.255],[1372,2.283],[1373,2.243],[1375,2.261],[1377,2.255],[1379,2.264],[1381,2.274],[1383,2.267],[1384,2.280],[1386,2.286],[1388,2.267],[1390,2.274],[1392,2.316],[1394,2.335],[1395,2.353],[1397,2.341],[1398,2.378],[1400,2.405], null,
  [1402,2.460],[1405,2.459], null,
  [1411,2.464],[1413,2.445],[1414,2.433],[1416,2.470],[1417,2.497],[1418,2.503],[1420,2.522],[1421,2.528],[1423,2.515],[1425,2.476],[1427,2.439],[1428,2.402],[1430,2.353],[1432,2.350],[1434,2.347],[1436,2.365],[1437,2.381],[1438,2.365],[1440,2.347],[1442,2.329],[1444,2.335],[1446,2.353],[1448,2.365],[1449,2.396],[1451,2.427],[1453,2.439],[1454,2.421],[1455,2.411],[1457,2.427],[1459,2.442],[1460,2.439],[1462,2.445],[1464,2.457],[1466,2.442],[1468,2.457], null,
  [1472,2.399],[1475,2.408],[1477,2.402],[1478,2.365],[1480,2.329],[1481,2.304],[1482,2.301],[1484,2.307], null,
  [1512,2.274],[1514,2.237],[1516,2.200],[1519,2.166], null,
  [1542,2.280],[1543,2.338], null,
  [1545,2.494],[1547,2.534], null,
  [1556,2.378],[1557,2.427],[1559,2.485],[1561,2.491], null,
  [1585,2.479],[1586,2.464],[1587,2.448],[1588,2.464],[1589,2.427],[1590,2.396],[1591,2.427],[1592,2.390],[1593,2.365],[1594,2.390],[1596,2.359],[1597,2.335],[1598,2.310],[1599,2.286],[1600,2.283], null,
  [1604,2.433],[1605,2.390],[1606,2.359],[1608,2.372],[1609,2.359],[1610,2.359],[1612,2.353],[1613,2.335],[1614,2.359],[1616,2.335],[1617,2.359],[1619,2.341],[1620,2.304], null,
  [1628,2.292],[1629,2.298],[1631,2.341],[1632,2.350], null,
  [1636,2.539],[1638,2.538]
];

const meanFrom = ["2017-01-01", "2019-07-01"];
const meanTo = ["2018-06-27", "2021-06-24"];
const meanValue = [2.11, 2.33];

const mslTicks = [1.8, 1.9, 2.0, 2.1, 2.2, 2.3, 2.4, 2.5, 2.6];
const mslGrid = [2.0, 2.2, 2.4, 2.6];

// ---- layout ----
const FONT = "'Open Sans', 'Noto Sans', sans-serif";
const textColor = "#231f20";
const axisColor = "#4d4d4d";
const left = 66.5, right = 1263;
const aTop = 42, aBottom = 409;
const bTop = 502.3, bBottom = 937.7;

const parse = d3.utcParse("%Y-%m-%d");
const startDate = parse(tickDates[0]);
const dayToDate = d => d3.utcDay.offset(startDate, d);

const svg = d3.select("#fig");
svg.append("rect").attr("width", 1319).attr("height", 969).attr("fill", "#fff");

const x = d3.scaleUtc()
  .domain([startDate, parse(tickDates[tickDates.length - 1])])
  .range([left, right]);

const fmt = d3.utcFormat("%d/%m/%Y");

function styleAxis(g, size) {
  g.attr("font-family", FONT).attr("font-size", size).attr("color", axisColor);
  g.selectAll(".domain, .tick line").attr("stroke-width", 1.3);
  g.selectAll("text").attr("fill", textColor);
}

function xAxis(yPos, pad) {
  const g = svg.append("g")
    .attr("transform", `translate(0,${yPos})`)
    .call(d3.axisBottom(x)
      .tickValues(tickDates.map(parse))
      .tickFormat(fmt)
      .tickSize(7)
      .tickSizeOuter(0)
      .tickPadding(pad));
  styleAxis(g, 16);
}

// ---- panel (a) ----
const ya = d3.scaleLinear().domain([-45.5, 5.5]).range([aBottom, aTop]);

const yaxisA = svg.append("g")
  .attr("transform", `translate(${left},0)`)
  .call(d3.axisLeft(ya).tickValues([]).tickSizeOuter(0));
styleAxis(yaxisA, 16);
xAxis(aBottom, 10);

const runs = [
  { s: 0, start: maygStart, cm: maygCm },
  { s: 0, start: maygMidStart, cm: maygCmMid },
  { s: 1, start: bdrlEarlyStart, cm: bdrlEarlyCm },
  { s: 1, start: bdrlEarlyMidStart, cm: bdrlEarlyCmMid },
  { s: 1, start: bdrlStart, cm: bdrlCm },
  { s: 1, start: bdrlMidStart, cm: bdrlCmMid },
  { s: 2, start: gamoEarlyStart, cm: gamoEarlyCm },
  { s: 2, start: gamoEarlyMidStart, cm: gamoEarlyCmMid },
  { s: 2, start: gamoStart, cm: gamoCm },
  { s: 2, start: gamoMidStart, cm: gamoCmMid }
];

const dots = [];
runs.forEach(r => {
  r.cm.forEach((v, i) => {
    dots.push({ s: r.s, date: dayToDate(r.start + i * sampleStep), v: v + stationOffset[r.s] });
  });
});

svg.append("g")
  .selectAll("circle")
  .data(dots)
  .enter()
  .append("circle")
  .attr("cx", d => x(d.date))
  .attr("cy", d => ya(d.v))
  .attr("r", 3.0)
  .attr("fill", d => stationColors[d.s]);

// scale bar (10 cm)
const barDate = parse("2017-06-14");
const barTop = -9.5;
const bx = x(barDate);
svg.append("path")
  .attr("d", `M${bx + 9},${ya(barTop)}H${bx}V${ya(barTop - 10)}H${bx + 9}`)
  .attr("fill", "none")
  .attr("stroke", axisColor)
  .attr("stroke-width", 1.3);
svg.append("text")
  .attr("x", bx + 12)
  .attr("y", ya(barTop - 5))
  .attr("dy", "0.35em")
  .attr("font-family", FONT)
  .attr("font-size", 22)
  .attr("fill", textColor)
  .text("10 cm");

// legend
const legendY = [313, 347, 382];
stations.forEach((name, i) => {
  svg.append("circle")
    .attr("cx", 83).attr("cy", legendY[i]).attr("r", 4)
    .attr("fill", stationColors[i]);
  svg.append("text")
    .attr("x", 93).attr("y", legendY[i]).attr("dy", "0.35em")
    .attr("font-family", FONT).attr("font-size", 19).attr("fill", textColor)
    .text(name);
});

svg.append("text")
  .attr("transform", "translate(40,216) rotate(-90)")
  .attr("text-anchor", "middle")
  .attr("font-family", FONT).attr("font-size", 23.5).attr("fill", textColor)
  .text("Vertical movement (cm)");

svg.append("text")
  .attr("x", 73).attr("y", 36)
  .attr("font-family", FONT).attr("font-size", 33).attr("fill", textColor)
  .text("(a)");

// ---- panel (b) ----
const yb = d3.scaleLinear().domain([1.8, 2.6]).range([bBottom, bTop]);
const gridEnd = parse(meanTo[meanTo.length - 1]);

svg.append("g")
  .selectAll("line")
  .data(mslGrid)
  .enter()
  .append("line")
  .attr("x1", left).attr("x2", x(gridEnd))
  .attr("y1", d => yb(d)).attr("y2", d => yb(d))
  .attr("stroke", "#808080")
  .attr("stroke-width", 1.3)
  .attr("stroke-dasharray", "8,7");

const yaxisB = svg.append("g")
  .attr("transform", `translate(${left},0)`)
  .call(d3.axisLeft(yb)
    .tickValues(mslTicks)
    .tickFormat(d3.format(".1f"))
    .tickSize(7)
    .tickSizeOuter(0)
    .tickPadding(4));
styleAxis(yaxisB, 15);
xAxis(bBottom, 7);

// mean levels
meanValue.forEach((v, i) => {
  svg.append("line")
    .attr("x1", x(parse(meanFrom[i]))).attr("x2", x(parse(meanTo[i])))
    .attr("y1", yb(v)).attr("y2", yb(v))
    .attr("stroke", "#ee2a24")
    .attr("stroke-width", 2.4)
    .attr("stroke-dasharray", "2.2,1.8");
});

const line = d3.line()
  .defined(d => d !== null)
  .x(d => x(dayToDate(d[0])))
  .y(d => yb(d[1]));

svg.append("path")
  .datum(seaLevel)
  .attr("d", line)
  .attr("fill", "none")
  .attr("stroke", "#283a8c")
  .attr("stroke-width", 2.8)
  .attr("stroke-linejoin", "round")
  .attr("stroke-linecap", "round");

svg.append("text")
  .attr("transform", "translate(26,720) rotate(-90)")
  .attr("text-anchor", "middle")
  .attr("font-family", FONT).attr("font-size", 23.5).attr("fill", textColor)
  .text("Mean sea level (m)");

svg.append("text")
  .attr("x", 74).attr("y", 487)
  .attr("font-family", FONT).attr("font-size", 33).attr("fill", textColor)
  .text("(b)");
</script>
</body>
</html>
